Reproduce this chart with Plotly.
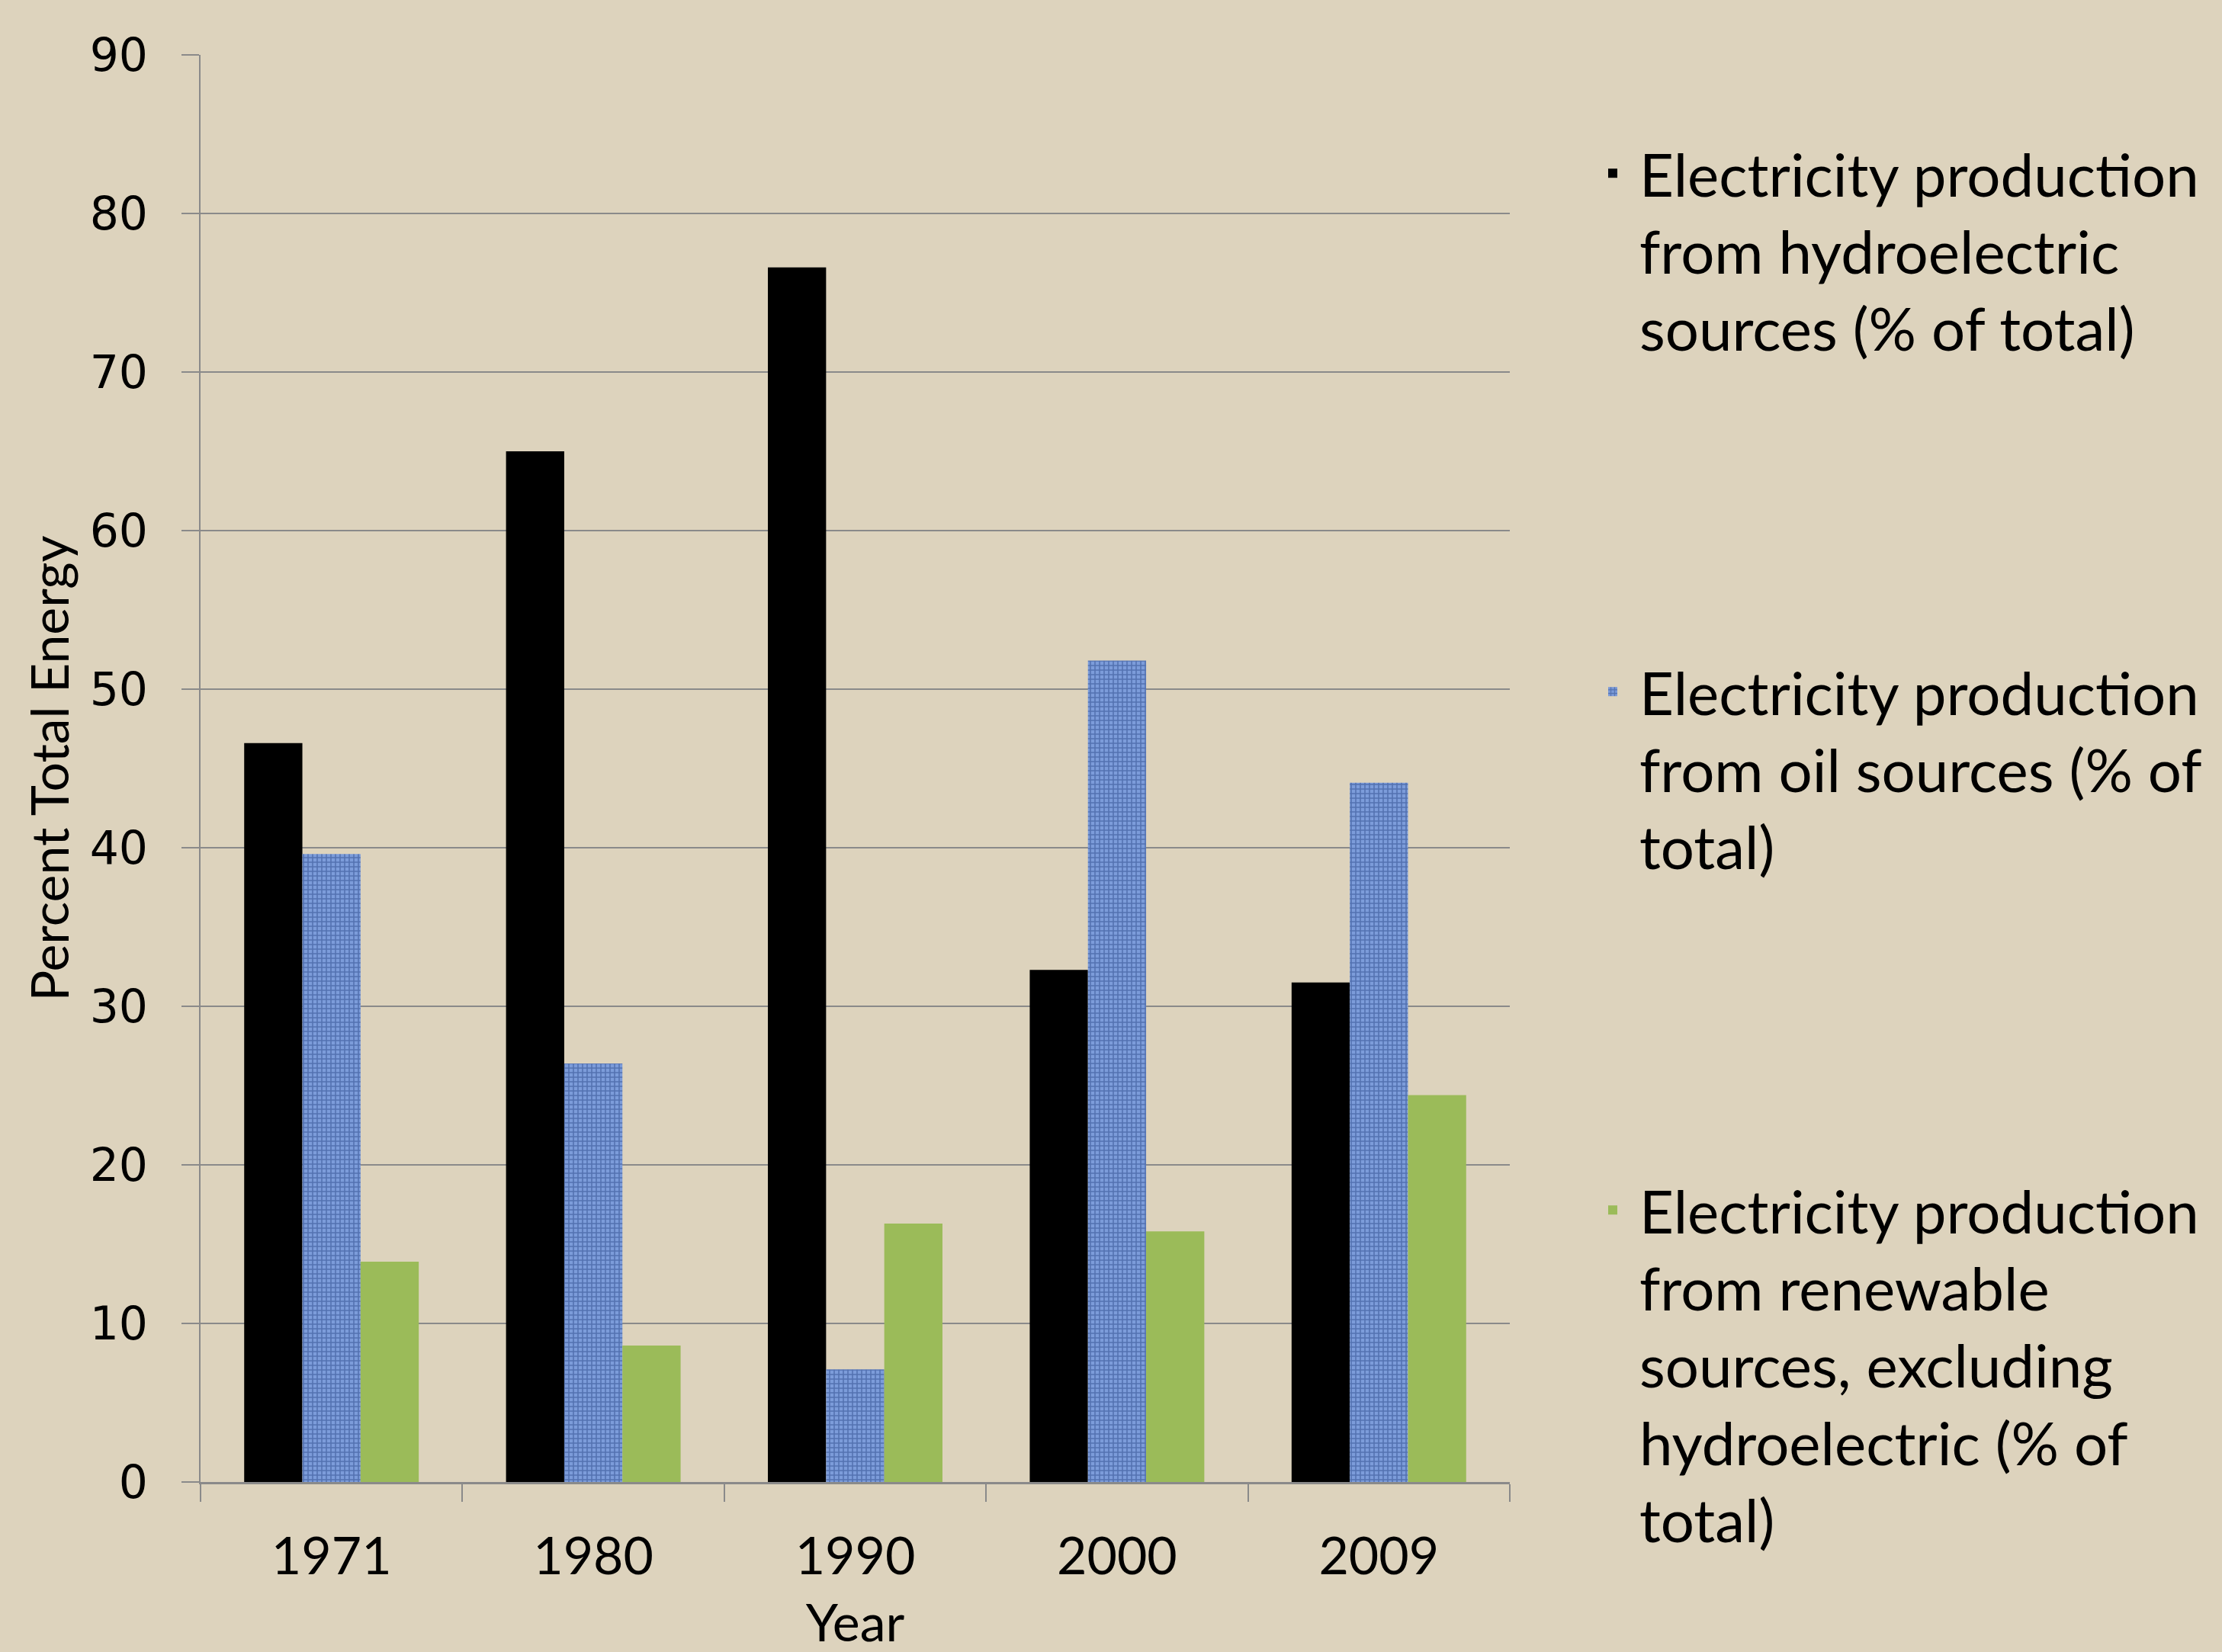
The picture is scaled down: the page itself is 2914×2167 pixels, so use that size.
import plotly.graph_objects as go

years = ["1971", "1980", "1990", "2000", "2009"]
hydro = [46.6, 65.0, 76.6, 32.3, 31.5]
oil = [39.6, 26.4, 7.1, 51.8, 44.1]
renew = [13.9, 8.6, 16.3, 15.8, 24.4]

name_hydro = "Electricity production<br>from hydroelectric<br>sources (% of total)"
name_oil = "Electricity production<br>from oil sources (% of<br>total)"
name_renew = ("Electricity production<br>from renewable<br>sources, excluding<br>"
              "hydroelectric (% of<br>total)")

BG = "#DDD3BD"
GRID = "#8A8A8A"
TXT_FONT = "Lato"

fig = go.Figure()
fig.add_trace(go.Bar(x=years, y=hydro, name=name_hydro, legend="legend",
                     marker=dict(color="#000000", line=dict(width=0))))
fig.add_trace(go.Bar(x=years, y=oil, name=name_oil, legend="legend2",
                     marker=dict(color="#6F90D0", line=dict(width=0),
                                 pattern=dict(shape="+", fgcolor="#2A4886",
                                              bgcolor="#7C9CDA", size=6,
                                              solidity=0.45))))
fig.add_trace(go.Bar(x=years, y=renew, name=name_renew, legend="legend3",
                     marker=dict(color="#9BBB59", line=dict(width=0))))

W, H = 2914, 2167
L, R, T, B = 263, 2914 - 1980, 72, 2167 - 1944

leg_font = dict(family=TXT_FONT, size=78, color="#000000")
common_leg = dict(xanchor="left", yanchor="top", valign="top",
                  bgcolor="rgba(0,0,0,0)", borderwidth=0, font=leg_font,
                  itemwidth=60, itemsizing="constant")
x_leg = (2080 - L) / (1980 - L)

fig.update_layout(
    width=W, height=H,
    margin=dict(l=L, r=R, t=T, b=B, autoexpand=False),
    paper_bgcolor=BG, plot_bgcolor=BG,
    barmode="group", bargap=1.5 / 4.5, bargroupgap=0,
    showlegend=True,
    legend=dict(x=x_leg, y=1 - (170 - T) / (1944 - T), **common_leg),
    legend2=dict(x=x_leg, y=1 - (850 - T) / (1944 - T), **common_leg),
    legend3=dict(x=x_leg, y=1 - (1530 - T) / (1944 - T), **common_leg),
    xaxis=dict(
        type="category", tickson="boundaries", ticks="outside", ticklen=23,
        tickwidth=2, tickcolor=GRID, showline=True, linecolor=GRID, linewidth=3,
        showgrid=False, tickfont=dict(family=TXT_FONT, size=68, color="#000000"),
        ticklabelstandoff=36,
        title=dict(text="Year", font=dict(family=TXT_FONT, size=68, color="#000000"),
                   standoff=38),
    ),
    yaxis=dict(
        range=[0, 90], dtick=10, tick0=0, ticks="outside", ticklen=23,
        tickwidth=2, tickcolor=GRID, showline=True, linecolor=GRID, linewidth=2,
        showgrid=True, gridcolor=GRID, gridwidth=2, zeroline=False,
        tickfont=dict(family="DejaVu Sans", size=60, color="#000000"),
        ticklabelstandoff=32,
        title=dict(text="Percent Total Energy",
                   font=dict(family=TXT_FONT, size=68, color="#000000"),
                   standoff=5),
    ),
)

fig.write_html(
    "out.html",
    config={"displayModeBar": False},
    post_script="document.body.style.margin='0';document.body.style.background='#DDD3BD';",
)
